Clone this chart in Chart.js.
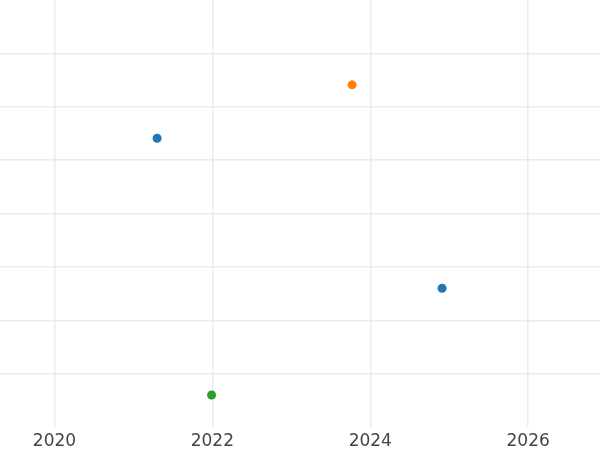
<!DOCTYPE html>
<html>
<head>
<meta charset="utf-8">
<script src="https://cdn.jsdelivr.net/npm/chart.js@4/dist/chart.umd.min.js"></script>
<style>
  html, body { margin: 0; padding: 0; background: #fff; }
  #wrap { width: 600px; height: 450px; position: relative; }
</style>
</head>
<body>
<div id="wrap"><canvas id="c"></canvas></div>
<script>
const xTickLabels = [2020, 2022, 2024, 2026];
const seriesNames = ['A', 'B', 'C'];
const seriesColors = ['#1f77b4', '#ff7f0e', '#2ca02c'];
const seriesAx = [2021.30, 2024.91];
const seriesAy = [5.41, 2.60];
const seriesBx = [2023.77];
const seriesBy = [6.41];
const seriesCx = [2021.99];
const seriesCy = [0.60];

const xs = [seriesAx, seriesBx, seriesCx];
const ys = [seriesAy, seriesBy, seriesCy];

const datasets = seriesNames.map((n, i) => ({
  label: n,
  data: xs[i].map((x, j) => ({ x: x, y: ys[i][j] })),
  backgroundColor: seriesColors[i],
  borderColor: seriesColors[i],
  pointRadius: 4.5,
  pointBorderWidth: 0
}));

new Chart(document.getElementById('c'), {
  type: 'scatter',
  data: { datasets },
  options: {
    responsive: true,
    maintainAspectRatio: false,
    animation: false,
    layout: { padding: 0, autoPadding: false },
    plugins: { legend: { display: false }, tooltip: { enabled: false } },
    scales: {
      x: {
        type: 'linear',
        min: 2019.31,
        max: 2026.91,
        afterBuildTicks: (axis) => { axis.ticks = xTickLabels.map(v => ({ value: v })); },
        afterFit: (axis) => { axis.height = 23; },
        border: { display: false },
        grid: { color: '#ebebeb', lineWidth: 1.5, drawTicks: false },
        ticks: {
          color: '#444444',
          font: { family: 'DejaVu Sans', size: 17 },
          padding: 4,
          maxRotation: 0,
          autoSkip: false,
          callback: (v) => String(v)
        }
      },
      y: {
        type: 'linear',
        min: 0,
        max: 8,
        afterFit: (axis) => { axis.width = 0; },
        border: { display: false },
        grid: {
          drawTicks: false,
          lineWidth: 1.5,
          color: (ctx) => (ctx.tick && (ctx.tick.value === 0 || ctx.tick.value === 8)) ? 'rgba(0,0,0,0)' : '#ebebeb'
        },
        ticks: { display: false, stepSize: 1 }
      }
    }
  }
});
</script>
</body>
</html>
